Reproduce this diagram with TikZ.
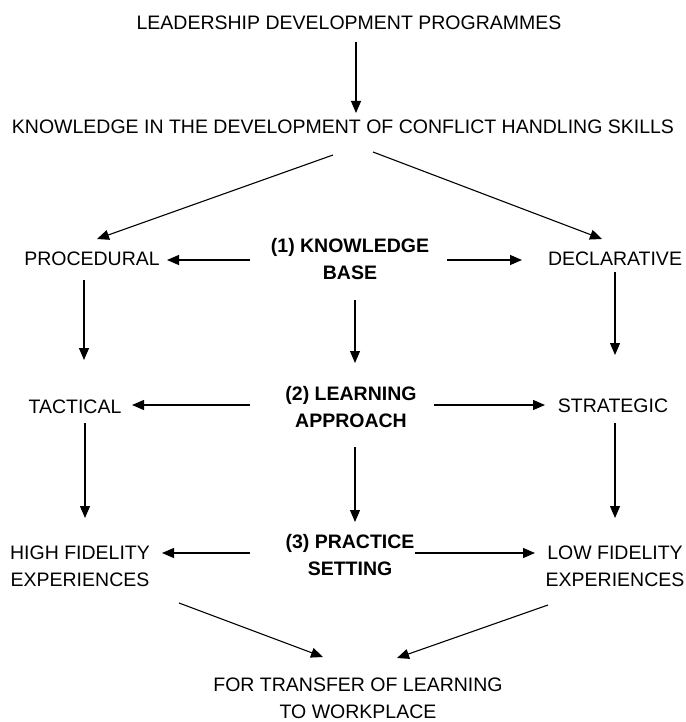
\documentclass[tikz,border=0pt]{standalone}
\usepackage{fontspec}
\setmainfont{Liberation Sans}
\usetikzlibrary{arrows.meta,calc}

\begin{document}
\begin{tikzpicture}[
  x=1pt, y=-1pt,
  every node/.style={inner sep=0pt, outer sep=0pt, align=center,
    font=\fontsize{19.5}{27}\selectfont},
  label/.style={},
  hub/.style={font=\fontsize{19.5}{27}\selectfont\bfseries},
  arr/.style={line width=1.1pt, -{Triangle[length=12pt,width=10pt]}},
]
\useasboundingbox (0,0) rectangle (685,722);

% top of the chain
\node[label] (title) at (349,23) {LEADERSHIP DEVELOPMENT PROGRAMMES};
\node[label] (know) at (343,127) {KNOWLEDGE IN THE DEVELOPMENT OF CONFLICT HANDLING SKILLS};

% row 1
\node[label] (proc) at (92,259) {PROCEDURAL};
\node[hub] (kb) at (350,259.5) {(1) KNOWLEDGE\\BASE};
\node[label] (decl) at (615,259) {DECLARATIVE};

% row 2
\node[label] (tact) at (75,407) {TACTICAL};
\node[hub] (la) at (351,407) {(2) LEARNING\\APPROACH};
\node[label] (strat) at (613,406) {STRATEGIC};

% row 3
\node[label] (hf) at (80,566.5) {HIGH FIDELITY\\EXPERIENCES};
\node[hub] (ps) at (350,555.5) {(3) PRACTICE\\SETTING};
\node[label] (lf) at (615,566.5) {LOW FIDELITY\\EXPERIENCES};

% outcome
\node[label] (tr) at (358,698) {FOR TRANSFER OF LEARNING\\TO WORKPLACE};

% connectors
\draw[arr] ($(title)+(7,19)$) -- ($(know)+(13,-14)$);
\draw[arr] ($(know)+(-10,28)$) -- ($(proc)+(5,-20)$);
\draw[arr] ($(know)+(30,25)$) -- ($(decl)+(-13,-20)$);

\draw[arr] ($(kb)+(-100,0.5)$) -- ($(proc)+(75,1)$);
\draw[arr] ($(kb)+(97,0.5)$) -- ($(decl)+(-93,1)$);

\draw[arr] ($(proc)+(-8,21)$) -- ($(tact)+(9,-47)$);
\draw[arr] ($(kb)+(5,40.5)$) -- ($(la)+(4,-44)$);
\draw[arr] ($(decl)+(0,13)$) -- ($(strat)+(2,-51)$);

\draw[arr] ($(la)+(-101,-2)$) -- ($(tact)+(57,-2)$);
\draw[arr] ($(la)+(83,-2)$) -- ($(strat)+(-68,-1)$);

\draw[arr] ($(tact)+(10,16)$) -- ($(hf)+(5,-48.5)$);
\draw[arr] ($(la)+(4,40)$) -- ($(ps)+(5,-33.5)$);
\draw[arr] ($(strat)+(2,17)$) -- ($(lf)+(0,-48.5)$);

\draw[arr] ($(ps)+(-100,-2.5)$) -- ($(hf)+(82,-13.5)$);
\draw[arr] ($(ps)+(65,-2.5)$) -- ($(lf)+(-80,-13.5)$);

\draw[arr] ($(hf)+(99,36.5)$) -- ($(tr)+(-35,-41)$);
\draw[arr] ($(lf)+(-67,38.5)$) -- ($(tr)+(39,-40)$);
\end{tikzpicture}
\end{document}
